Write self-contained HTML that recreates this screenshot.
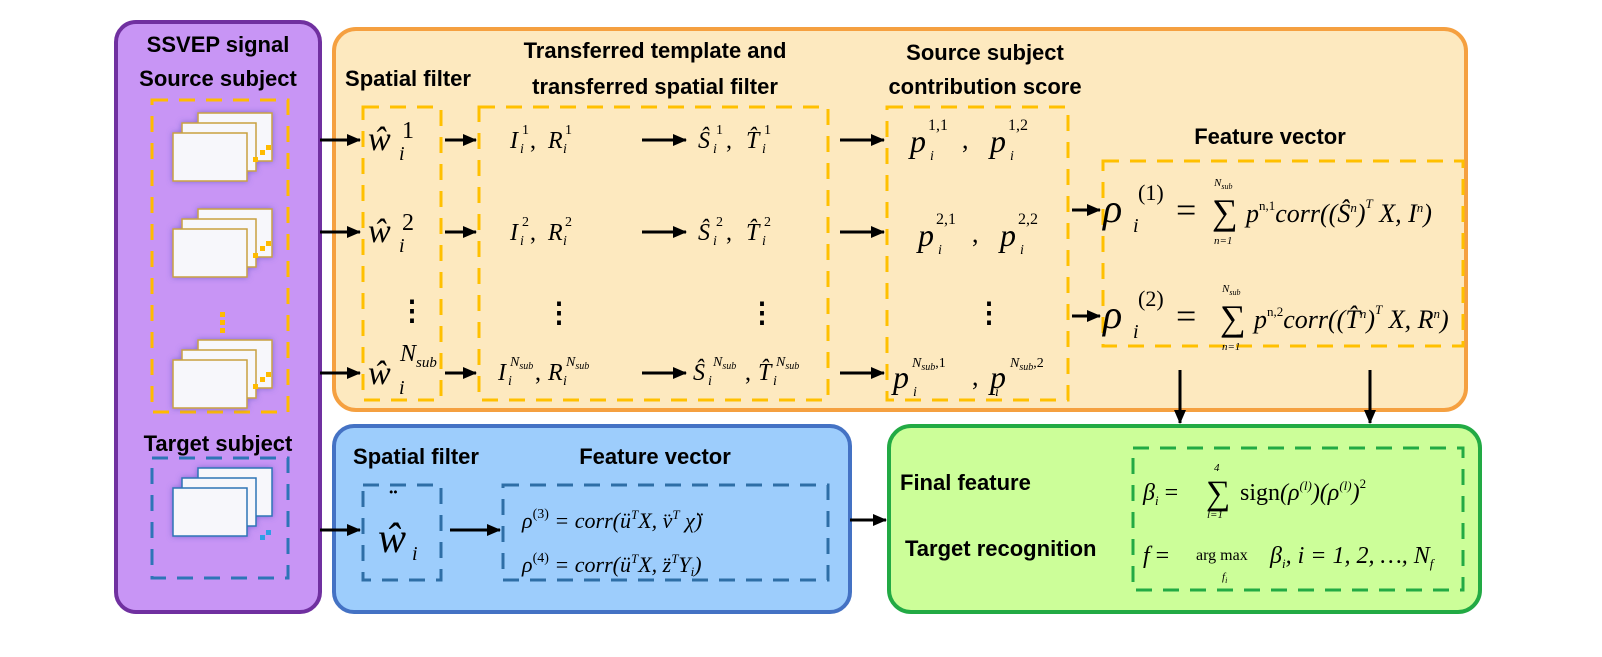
<!DOCTYPE html>
<html><head><meta charset="utf-8"><style>
body{margin:0;background:#fff}
svg{display:block}
.h{font-family:"Liberation Sans",sans-serif;font-weight:bold;font-size:22px;fill:#000}
.m{font-family:"Liberation Serif",serif;font-style:italic;fill:#000}
.r{font-family:"Liberation Serif",serif;fill:#000}
</style></head><body>
<svg width="1602" height="657" viewBox="0 0 1602 657">
<defs>
<marker id="b" markerWidth="14" markerHeight="12" refX="13" refY="6" orient="auto" markerUnits="userSpaceOnUse"><path d="M0,0 L14,6 L0,12z" fill="#000"/></marker>
<filter id="sh"><feDropShadow dx="0" dy="0" stdDeviation="3" flood-color="#5050c0" flood-opacity="0.6"/></filter>
</defs>
<rect x="116" y="22" width="204" height="590" rx="20" fill="#c895f5" stroke="#7030a0" stroke-width="4"/>
<rect x="334" y="29" width="1132" height="381" rx="22" fill="#fde9bf" stroke="#f5a040" stroke-width="4"/>
<rect x="334" y="426" width="516" height="186" rx="20" fill="#9dcdfc" stroke="#4472c4" stroke-width="4"/>
<rect x="889" y="426" width="591" height="186" rx="22" fill="#ccfe99" stroke="#22aa44" stroke-width="4"/>
<g fill="none" stroke-width="3" stroke-dasharray="16,11">
<rect x="152" y="100" width="136" height="312" stroke="#ffbb00"/>
<rect x="363" y="107" width="78" height="293" stroke="#ffc000"/>
<rect x="479" y="107" width="349" height="293" stroke="#ffc000"/>
<rect x="887" y="107" width="181" height="293" stroke="#ffc000"/>
<rect x="1103" y="161" width="360" height="185" stroke="#ffc000"/>
<rect x="152" y="458" width="136" height="120" stroke="#2e75b6"/>
<rect x="363" y="485" width="78" height="95" stroke="#2e6ea6"/>
<rect x="503" y="485" width="325" height="95" stroke="#2e6ea6"/>
<rect x="1133" y="448" width="330" height="142" stroke="#22aa44"/>
</g>
<g id="st" stroke="#c8a040" stroke-width="1.5" fill="#f7f7fb" filter="url(#sh)">
<rect x="198" y="113" width="74" height="48"/>
<rect x="182" y="123" width="74" height="48"/>
<rect x="173" y="133" width="74" height="48"/>
</g>
<g id="dd" fill="#ffbb00"><rect x="260" y="150" width="5" height="5"/><rect x="266" y="145" width="5" height="5"/><rect x="253" y="157" width="5" height="5"/></g>
<use href="#st" y="96"/><use href="#st" y="227"/><use href="#dd" y="96"/><use href="#dd" y="227"/>
<g stroke="#2e75b6" stroke-width="1.5" fill="#f7f7fb" filter="url(#sh)">
<rect x="198" y="468" width="74" height="48"/><rect x="182" y="478" width="74" height="48"/><rect x="173" y="488" width="74" height="48"/>
</g>
<g fill="#2e9ee6"><rect x="260" y="535" width="5" height="5"/><rect x="266" y="530" width="5" height="5"/></g>
<g fill="#ffbb00"><rect x="220" y="312" width="5" height="5"/><rect x="220" y="320" width="5" height="5"/><rect x="220" y="328" width="5" height="5"/></g>
<!-- headings -->
<text class="h" x="218" y="52" text-anchor="middle" font-size="23">SSVEP signal</text>
<text class="h" x="218" y="86" text-anchor="middle" font-size="23">Source subject</text>
<text class="h" x="218" y="451" text-anchor="middle" font-size="23">Target subject</text>
<text class="h" x="408" y="86" text-anchor="middle">Spatial filter</text>
<text class="h" x="655" y="58" text-anchor="middle">Transferred template and</text>
<text class="h" x="655" y="94" text-anchor="middle">transferred spatial filter</text>
<text class="h" x="985" y="60" text-anchor="middle">Source subject</text>
<text class="h" x="985" y="94" text-anchor="middle">contribution score</text>
<text class="h" x="1270" y="144" text-anchor="middle">Feature vector</text>
<text class="h" x="416" y="464" text-anchor="middle">Spatial filter</text>
<text class="h" x="655" y="464" text-anchor="middle">Feature vector</text>
<text class="h" x="900" y="490">Final feature</text>
<text class="h" x="905" y="556">Target recognition</text>
<!-- arrows -->
<g stroke="#000" stroke-width="3" marker-end="url(#b)">
<line x1="320" y1="140" x2="360" y2="140"/><line x1="320" y1="232" x2="360" y2="232"/><line x1="320" y1="373" x2="360" y2="373"/>
<line x1="320" y1="530" x2="360" y2="530"/>
<line x1="445" y1="140" x2="476" y2="140"/><line x1="445" y1="232" x2="476" y2="232"/><line x1="445" y1="373" x2="476" y2="373"/>
<line x1="642" y1="140" x2="686" y2="140"/><line x1="642" y1="232" x2="686" y2="232"/><line x1="642" y1="373" x2="686" y2="373"/>
<line x1="840" y1="140" x2="884" y2="140"/><line x1="840" y1="232" x2="884" y2="232"/><line x1="840" y1="373" x2="884" y2="373"/>
<line x1="1072" y1="210" x2="1100" y2="210"/><line x1="1072" y1="316" x2="1100" y2="316"/>
<line x1="450" y1="530" x2="500" y2="530"/><line x1="850" y1="520" x2="886" y2="520"/>
<line x1="1180" y1="370" x2="1180" y2="423"/><line x1="1370" y1="370" x2="1370" y2="423"/>
</g>
<!-- spatial filters -->
<g class="m" font-size="34"><text x="368" y="150">ŵ</text><text x="368" y="242">ŵ</text><text x="368" y="384">ŵ</text></g>
<g class="r" font-size="24"><text x="402" y="138">1</text><text x="402" y="230">2</text></g>
<g class="m" font-size="20"><text x="399" y="160">i</text><text x="399" y="252">i</text><text x="399" y="394">i</text></g>
<text class="m" x="400" y="361" font-size="24">N<tspan font-size="15" dy="6">sub</tspan></text>
<text class="r" x="398" y="320" font-size="28" font-weight="bold">⋮</text>
<!-- templates -->
<g class="m" font-size="24">
<text x="510" y="148">I</text><text x="548" y="148">R</text>
<text x="510" y="240">I</text><text x="548" y="240">R</text>
<text x="498" y="380">I</text><text x="548" y="380">R</text>
<text x="698" y="148">Ŝ</text><text x="746" y="148">T̂</text>
<text x="698" y="240">Ŝ</text><text x="746" y="240">T̂</text>
<text x="693" y="380">Ŝ</text><text x="758" y="380">T̂</text>
</g>
<g class="r" font-size="24"><text x="530" y="148">,</text><text x="530" y="240">,</text><text x="535" y="380">,</text><text x="726" y="148">,</text><text x="726" y="240">,</text><text x="745" y="380">,</text></g>
<g class="r" font-size="14"><text x="522" y="134">1</text><text x="565" y="134">1</text><text x="716" y="134">1</text><text x="764" y="134">1</text>
<text x="522" y="226">2</text><text x="565" y="226">2</text><text x="716" y="226">2</text><text x="764" y="226">2</text></g>
<g class="m" font-size="14"><text x="520" y="153">i</text><text x="563" y="153">i</text><text x="713" y="153">i</text><text x="762" y="153">i</text>
<text x="520" y="245">i</text><text x="563" y="245">i</text><text x="713" y="245">i</text><text x="762" y="245">i</text>
<text x="508" y="385">i</text><text x="563" y="385">i</text><text x="708" y="385">i</text><text x="773" y="385">i</text>
<text x="510" y="366">N<tspan font-size="10" dy="3">sub</tspan></text><text x="566" y="366">N<tspan font-size="10" dy="3">sub</tspan></text>
<text x="713" y="366">N<tspan font-size="10" dy="3">sub</tspan></text><text x="776" y="366">N<tspan font-size="10" dy="3">sub</tspan></text></g>
<g class="r" font-size="28" font-weight="bold"><text x="545" y="322">⋮</text><text x="748" y="322">⋮</text><text x="975" y="322">⋮</text></g>
<!-- scores -->
<g class="m" font-size="32">
<text x="910" y="152">p</text><text x="990" y="152">p</text>
<text x="918" y="246">p</text><text x="1000" y="246">p</text>
<text x="893" y="388">p</text><text x="990" y="388">p</text></g>
<g class="r" font-size="26"><text x="962" y="148">,</text><text x="972" y="242">,</text><text x="972" y="385">,</text></g>
<g class="r" font-size="16"><text x="928" y="130">1,1</text><text x="1008" y="130">1,2</text><text x="936" y="224">2,1</text><text x="1018" y="224">2,2</text></g>
<g class="m" font-size="14"><text x="930" y="160">i</text><text x="1010" y="160">i</text><text x="938" y="254">i</text><text x="1020" y="254">i</text><text x="913" y="396">i</text><text x="995" y="396">i</text>
<text x="912" y="367">N<tspan font-size="10" dy="3">sub</tspan><tspan dy="-3" font-style="normal">,1</tspan></text>
<text x="1010" y="367">N<tspan font-size="10" dy="3">sub</tspan><tspan dy="-3" font-style="normal">,2</tspan></text></g>
<!-- feature vector formulas -->
<g class="m" font-size="40"><text x="1103" y="222">ρ</text><text x="1103" y="328">ρ</text></g>
<g class="r" font-size="22"><text x="1138" y="200">(1)</text><text x="1138" y="306">(2)</text></g>
<g class="m" font-size="20"><text x="1133" y="232">i</text><text x="1133" y="338">i</text></g>
<g class="r" font-size="36"><text x="1176" y="222">=</text><text x="1176" y="328">=</text><text x="1212" y="224">∑</text><text x="1220" y="330">∑</text></g>
<g class="m" font-size="11"><text x="1214" y="186">N<tspan font-size="8" dy="3">sub</tspan></text><text x="1214" y="244">n=1</text><text x="1222" y="292">N<tspan font-size="8" dy="3">sub</tspan></text><text x="1222" y="350">n=1</text></g>
<g class="m" font-size="26">
<text x="1246" y="222">p<tspan font-size="13" dy="-12" font-style="normal">n,1</tspan><tspan dy="12">corr((Ŝ</tspan><tspan font-size="13" dy="-10">n</tspan><tspan dy="10">)</tspan><tspan font-size="13" dy="-14">T</tspan><tspan dy="14"> X, I</tspan><tspan font-size="13" dy="-10">n</tspan><tspan dy="10">)</tspan></text>
<text x="1254" y="328">p<tspan font-size="13" dy="-12" font-style="normal">n,2</tspan><tspan dy="12">corr((T̂</tspan><tspan font-size="13" dy="-10">n</tspan><tspan dy="10">)</tspan><tspan font-size="13" dy="-14">T</tspan><tspan dy="14"> X, R</tspan><tspan font-size="13" dy="-10">n</tspan><tspan dy="10">)</tspan></text>
</g>
<!-- blue -->
<text class="m" x="378" y="552" font-size="42">ŵ</text><text class="m" x="412" y="560" font-size="20">i</text>
<text class="r" x="389" y="508" font-size="26" font-weight="bold">¨</text>
<g class="m" font-size="22">
<text x="522" y="528">ρ<tspan font-size="14" dy="-10" font-style="normal">(3)</tspan><tspan dy="10"> = corr(ü</tspan><tspan font-size="13" dy="-9">T</tspan><tspan dy="9">X, v̈</tspan><tspan font-size="13" dy="-9">T</tspan><tspan dy="9"> χ̈)</tspan></text>
<text x="522" y="572">ρ<tspan font-size="14" dy="-10" font-style="normal">(4)</tspan><tspan dy="10"> = corr(ü</tspan><tspan font-size="13" dy="-9">T</tspan><tspan dy="9">X, z̈</tspan><tspan font-size="13" dy="-9">T</tspan><tspan dy="9">Y</tspan><tspan font-size="13" dy="4">i</tspan><tspan dy="-4">)</tspan></text>
</g>
<!-- green -->
<g class="m" font-size="24">
<text x="1143" y="500">β<tspan font-size="13" dy="5">i</tspan><tspan dy="-5" font-style="normal"> = </tspan></text>
<text x="1240" y="500"><tspan class="r" font-style="normal">sign</tspan>(ρ<tspan font-size="13" dy="-10">(l)</tspan><tspan dy="10">)(ρ</tspan><tspan font-size="13" dy="-10">(l)</tspan><tspan dy="10">)</tspan><tspan font-size="13" dy="-12" font-style="normal">2</tspan></text>
<text x="1143" y="563">f<tspan font-style="normal"> = </tspan></text>
<text x="1270" y="563">β<tspan font-size="13" dy="5">i</tspan><tspan dy="-5">, i = 1, 2, …, N</tspan><tspan font-size="13" dy="5">f</tspan></text>
</g>
<text class="r" x="1206" y="504" font-size="34">∑</text>
<text class="r" x="1196" y="560" font-size="16">arg max</text>
<g class="m" font-size="11"><text x="1214" y="471">4</text><text x="1207" y="518">l=1</text><text x="1222" y="580">f<tspan font-size="8" dy="3">i</tspan></text></g>
</svg>
</body></html>
